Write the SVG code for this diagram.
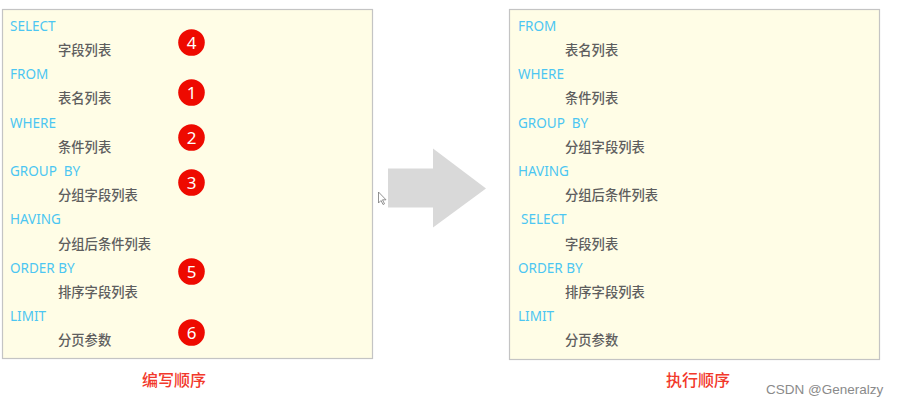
<svg xmlns="http://www.w3.org/2000/svg" width="899" height="407" viewBox="0 0 899 407">
<style>
.box{fill:#fffde6;stroke:#c4c4c4;stroke-width:1.2}
.kw{font-family:"Noto Sans","Open Sans",sans-serif;font-size:13.5px;fill:#4cc6f2;white-space:pre}
.cn{font-family:"Noto Sans CJK SC",sans-serif;font-size:13.3px;fill:#5e5e5e;font-weight:500}
.badge circle{fill:#ee0a00}
.badge text{font-family:"Noto Sans","Open Sans",sans-serif;font-size:17px;fill:#fff;text-anchor:middle}
.cap{font-family:"Noto Sans CJK SC",sans-serif;font-size:16px;fill:#f2382b;font-weight:500;text-anchor:middle}
.wm{font-family:"Liberation Sans",Arial,sans-serif;font-size:13.5px;fill:#8a8a8a}
</style>
<rect width="899" height="407" fill="#fff"/>
<g id="write-order">
<rect class="box" x="2.5" y="9.5" width="370" height="349"/>
<text class="kw" x="10" y="31">SELECT</text>
<text class="cn" x="58" y="55">字段列表</text>
<text class="kw" x="10" y="79">FROM</text>
<text class="cn" x="58" y="103">表名列表</text>
<text class="kw" x="10" y="128">WHERE</text>
<text class="cn" x="58" y="152">条件列表</text>
<text class="kw" x="10" y="176" xml:space="preserve">GROUP  BY</text>
<text class="cn" x="58" y="200">分组字段列表</text>
<text class="kw" x="10" y="224">HAVING</text>
<text class="cn" x="58" y="249">分组后条件列表</text>
<text class="kw" x="10" y="273">ORDER BY</text>
<text class="cn" x="58" y="297">排序字段列表</text>
<text class="kw" x="10" y="321">LIMIT</text>
<text class="cn" x="58" y="345">分页参数</text>
<g class="badge">
<circle cx="191.5" cy="42.5" r="13.3"/><text x="191.5" y="48.5">4</text>
<circle cx="191.5" cy="92.5" r="13.3"/><text x="191.5" y="98.5">1</text>
<circle cx="191.5" cy="137.5" r="13.3"/><text x="191.5" y="143.5">2</text>
<circle cx="191.5" cy="182.5" r="13.3"/><text x="191.5" y="188.5">3</text>
<circle cx="191.5" cy="271.5" r="13.3"/><text x="191.5" y="277.5">5</text>
<circle cx="191.5" cy="332.5" r="13.3"/><text x="191.5" y="338.5">6</text>
</g>
<text class="cap" x="174" y="386">编写顺序</text>
</g>
<g id="connectors">
<polygon points="388,168.5 433,168.5 433,148.5 486,188.5 433,227.5 433,207.5 388,207.5" fill="#d9d9d9"/>
<polygon points="378.5,192 378.5,203 381,200.5 383,204.5 384.5,203.8 382.5,199.8 386,199.8" fill="#fff" stroke="#777" stroke-width="0.8"/>
</g>
<g id="exec-order">
<rect class="box" x="509.5" y="9.5" width="370" height="350"/>
<text class="kw" x="518" y="31">FROM</text>
<text class="cn" x="565" y="55">表名列表</text>
<text class="kw" x="518" y="79">WHERE</text>
<text class="cn" x="565" y="103">条件列表</text>
<text class="kw" x="518" y="128" xml:space="preserve">GROUP  BY</text>
<text class="cn" x="565" y="152">分组字段列表</text>
<text class="kw" x="518" y="176">HAVING</text>
<text class="cn" x="565" y="200">分组后条件列表</text>
<text class="kw" x="521" y="224">SELECT</text>
<text class="cn" x="565" y="249">字段列表</text>
<text class="kw" x="518" y="273">ORDER BY</text>
<text class="cn" x="565" y="297">排序字段列表</text>
<text class="kw" x="518" y="321">LIMIT</text>
<text class="cn" x="565" y="345">分页参数</text>
<text class="cap" x="698" y="386">执行顺序</text>
</g>
<text class="wm" x="766" y="394">CSDN @Generalzy</text>
</svg>
